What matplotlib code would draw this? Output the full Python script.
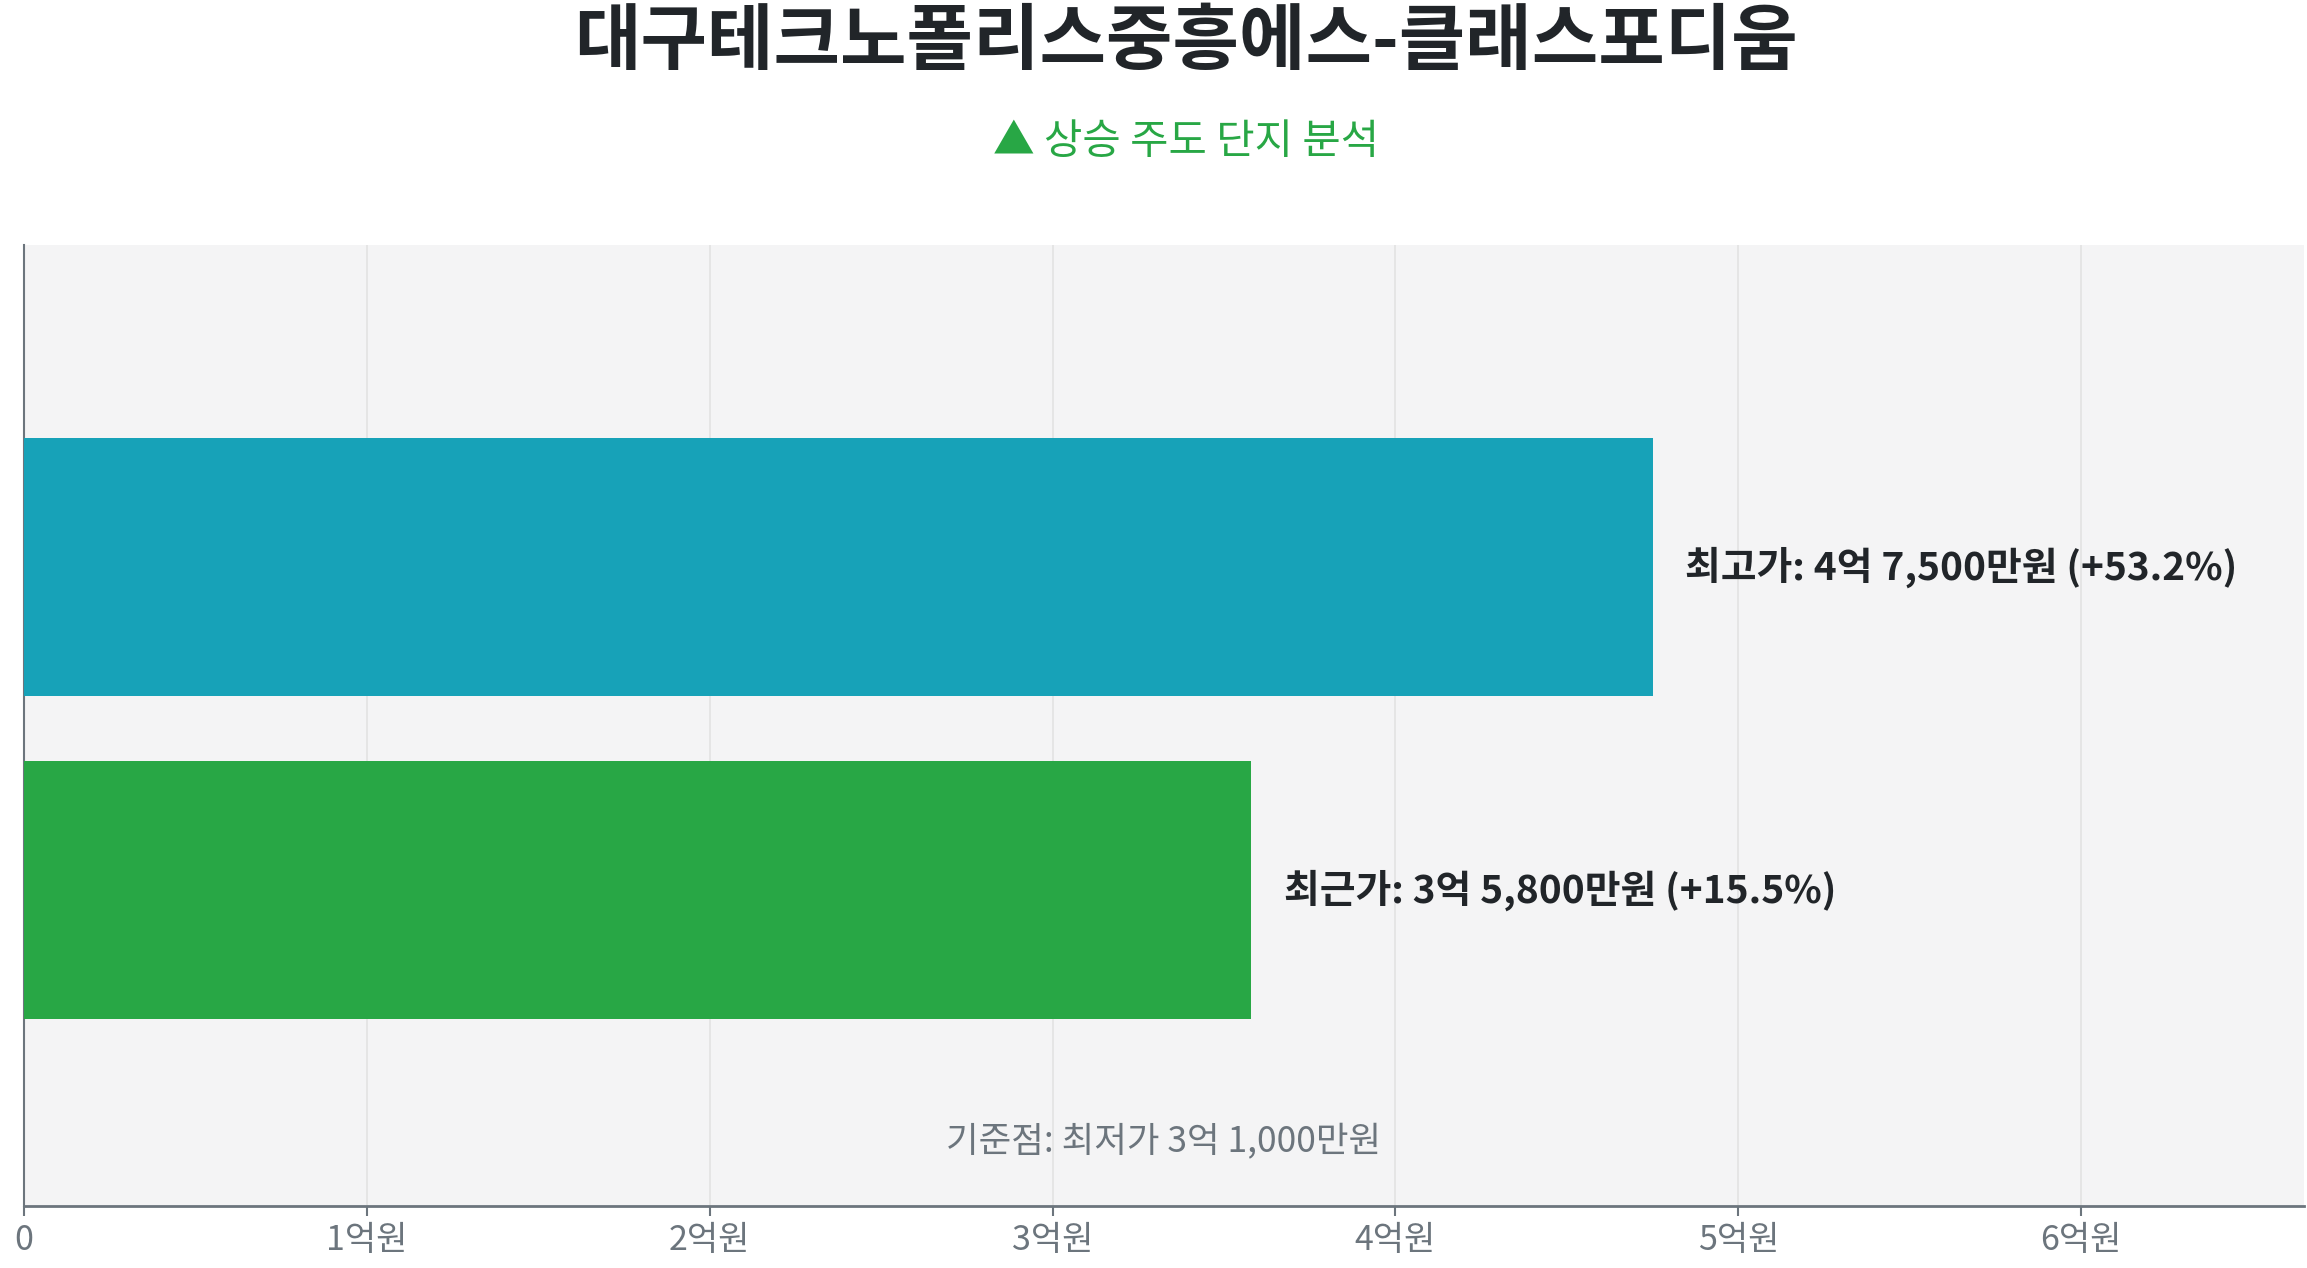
import matplotlib
matplotlib.use("Agg")
import matplotlib.pyplot as plt

plt.rcParams['font.family'] = ['Noto Sans CJK KR', 'DejaVu Sans']

# data (단위: 억원)
labels = ["최근가", "최고가"]
prices = [3.58, 4.75]
changes = [15.5, 53.2]
price_text = ["3억 5,800만원", "4억 7,500만원"]
bar_colors = ["#28a745", "#17a2b8"]
base_text = "기준점: 최저가 3억 1,000만원"
xticks = [0, 1, 2, 3, 4, 5, 6]
xtick_labels = ["0", "1억원", "2억원", "3억원", "4억원", "5억원", "6억원"]

fig = plt.figure(figsize=(23.07, 12.68), dpi=100)
ax = fig.add_axes([0.0104, 0.0489, 0.9883, 0.758])
ax.set_facecolor("#f4f4f5")

ypos = list(range(len(labels)))
ax.barh(ypos, prices, height=0.8, color=bar_colors, zorder=3)

for y, p, name, txt, ch in zip(ypos, prices, labels, price_text, changes):
    ax.text(p + max(prices) * 0.02, y, f"{name}: {txt} (+{ch}%)",
            va="center", ha="left", fontsize=28, fontweight="bold", color="#212529", zorder=4)

ax.text(0.5, 0.066, base_text, transform=ax.transAxes, ha="center", va="center",
        fontsize=25.5, color="#6c757d")

ax.set_xlim(0, max(prices) * 1.4)
ax.set_ylim(-0.98, 2.0)
ax.set_yticks([])
ax.set_xticks(xticks)
ax.set_xticklabels(xtick_labels, fontsize=24.5, color="#6c757d")
ax.tick_params(axis="x", length=7, width=1.5, color="#6c757d", pad=5)
ax.grid(axis="x", color="#e2e2e2", linewidth=1.2, zorder=0)

for s in ["top", "right"]:
    ax.spines[s].set_visible(False)
ax.spines["bottom"].set_color("#6c757d")
ax.spines["bottom"].set_linewidth(2)
ax.spines["left"].set_color("#6c757d")
ax.spines["left"].set_linewidth(1.5)

fig.text(0.514, 0.966, "대구테크노폴리스중흥에스-클래스포디움", ha="center", va="center",
         fontsize=52, fontweight="bold", color="#212529")
fig.text(0.514, 0.888, "▲ 상승 주도 단지 분석", ha="center", va="center",
         fontsize=30, color="#28a745")

fig.savefig("out.png", dpi=100, facecolor="white")
